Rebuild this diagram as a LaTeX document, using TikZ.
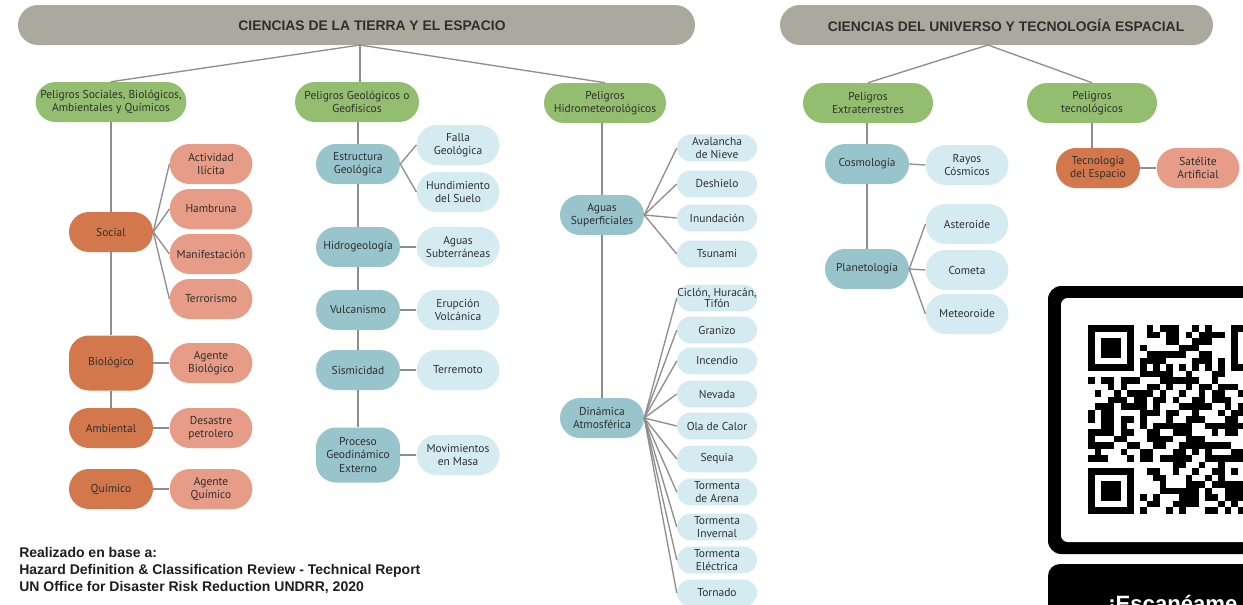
\documentclass[tikz,border=0pt]{standalone}
\usepackage{fontspec}
\setmainfont{PT Sans}
\newfontfamily\arialf{Liberation Sans}
\definecolor{hdrgray}{HTML}{A9AA9D}
\definecolor{green1}{HTML}{93BE70}
\definecolor{dorange}{HTML}{D3774C}
\definecolor{lorange}{HTML}{E69C86}
\definecolor{teal1}{HTML}{98C4CC}
\definecolor{lblue}{HTML}{D3EBF1}
\definecolor{linegray}{HTML}{8E8E8E}
\definecolor{txt}{HTML}{303030}
\definecolor{hdrtxt}{HTML}{2E2E2E}
\definecolor{footc}{HTML}{1E1E1E}
\newcommand\nodefont{\fontsize{8.6}{9.8}\selectfont}
\tikzset{
  base/.style={rectangle, rounded corners=15pt, inner sep=0pt, align=center, text=txt, font=\nodefont},
  hdrbox/.style={rectangle, rounded corners=15pt, fill=hdrgray, minimum height=30pt, inner sep=0pt},
  hdrtext/.style={font=\arialf\bfseries\fontsize{10.4}{12}\selectfont, text=hdrtxt, inner sep=0pt},
  lvA/.style={base, fill=green1, minimum height=30pt},
  lvB/.style={base, fill=teal1, minimum width=63pt, minimum height=30pt},
  lvC/.style={base, fill=lblue, minimum width=62pt, minimum height=30pt},
  lvCs/.style={base, fill=lblue, minimum width=60pt, minimum height=20pt, rounded corners=10pt},
  orD/.style={base, fill=dorange, minimum width=63pt, minimum height=30pt},
  orL/.style={base, fill=lorange, minimum width=62pt, minimum height=30pt},
  conn/.style={draw=linegray, line width=1pt},
}
\begin{document}
\begin{tikzpicture}[x=0.75pt, y=-0.75pt]
\useasboundingbox (0,0) rectangle (1243,604);
\clip (0,0) rectangle (1243,604);
\fill[white] (0,0) rectangle (1243,604);

% headers
\node[hdrbox, minimum width=507.75pt] (h1) at (356.5,25) {};
\node[hdrtext] (h1t) at (372,25.5) {CIENCIAS DE LA TIERRA Y EL ESPACIO};
\node[hdrbox, minimum width=324.75pt] (h2) at (996.5,25) {};
\node[hdrtext] (h2t) at (1006,25.5) {CIENCIAS DEL UNIVERSO Y TECNOLOGÍA ESPACIAL};
\coordinate (h1b) at (360,45);
\coordinate (h2b) at (988,45);

% level 1
\node[lvA, minimum width=113pt] (g1) at (111,102) {Peligros Sociales, Biológicos,\\Ambientales y Químicos};
\node[lvA, minimum width=93pt] (g2) at (357,102) {Peligros Geológicos o\\Geofísicos};
\node[lvA, minimum width=91.5pt] (g3) at (605,103) {Peligros\\Hidrometeorológicos};
\node[lvA, minimum width=97.5pt] (g4) at (868,103) {Peligros\\Extraterrestres};
\node[lvA, minimum width=97.5pt] (g5) at (1092,103) {Peligros\\tecnológicos};

% G1 tree
\node[orD] (social) at (111,232) {Social};
\node[orL] (act) at (211,164) {Actividad\\Ilícita};
\node[orL] (ham) at (211,209) {Hambruna};
\node[orL] (man) at (211,254) {Manifestación};
\node[orL] (terr) at (211,299) {Terrorismo};
\node[orD, minimum height=41.25pt] (bio) at (111,363) {Biológico};
\node[orL] (abio) at (211,363) {Agente\\Biológico};
\node[orD] (amb) at (111,428) {Ambiental};
\node[orL] (desa) at (211,428) {Desastre\\petrolero};
\node[orD] (qui) at (111,489) {Químico};
\node[orL] (aqui) at (211,489) {Agente\\Químico};

% G2 tree
\node[lvB] (est) at (358,164) {Estructura\\Geológica};
\node[lvC] (fal) at (458,145) {Falla\\Geológica};
\node[lvC] (hun) at (458,192) {Hundimiento\\del Suelo};
\node[lvB] (hid) at (358,247) {Hidrogeología};
\node[lvC] (asub) at (458,247) {Aguas\\Subterráneas};
\node[lvB] (vul) at (358,310) {Vulcanismo};
\node[lvC] (eru) at (458,310) {Erupción\\Volcánica};
\node[lvB] (sis) at (358,370) {Sismicidad};
\node[lvC] (terre) at (458,370) {Terremoto};
\node[lvB, minimum height=41.25pt] (pro) at (358,455) {Proceso\\Geodinámico\\Externo};
\node[lvC] (mov) at (458,455) {Movimientos\\en Masa};

% G3 tree
\node[lvB] (agu) at (602,215) {Aguas\\Superficiales};
\node[lvCs] (ava) at (717,148) {Avalancha\\de Nieve};
\node[lvCs] (desh) at (717,184) {Deshielo};
\node[lvCs] (inu) at (717,218) {Inundación};
\node[lvCs] (tsu) at (717,254) {Tsunami};
\node[lvB] (din) at (602,418) {Dinámica\\Atmosférica};
\node[lvCs, font=\fontsize{8.6}{7.4}\selectfont] (cic) at (717,298) {Ciclón, Huracán,\\Tifón};
\node[lvCs] (gra) at (717,330) {Granizo};
\node[lvCs] (inc) at (717,361) {Incendio};
\node[lvCs] (nev) at (717,394) {Nevada};
\node[lvCs] (ola) at (717,426) {Ola de Calor};
\node[lvCs] (seq) at (717,459) {Sequia};
\node[lvCs] (tar) at (717,492) {Tormenta\\de Arena};
\node[lvCs] (tin) at (717,527) {Tormenta\\Invernal};
\node[lvCs] (tel) at (717,560) {Tormenta\\Eléctrica};
\node[lvCs] (torn) at (717,593) {Tornado};

% G4 tree
\node[lvB] (cos) at (867,164) {Cosmología};
\node[lvC] (ray) at (967,165) {Rayos\\Cósmicos};
\node[lvB] (pla) at (867,269) {Planetología};
\node[lvC] (ast) at (967,224) {Asteroide};
\node[lvC] (com) at (967,270) {Cometa};
\node[lvC] (met) at (967,314) {Meteoroide};

% G5 tree
\node[orD] (tec) at (1098,168) {Tecnología\\del Espacio};
\node[orL] (sat) at (1198,168) {Satélite\\Artificial};

% connectors
\draw[conn] (h1b) -- (g1.north);
\draw[conn] (h1b) -- (h1b |- g2.north);
\draw[conn] (h1b) -- (g3.north);
\draw[conn] (h2b) -- (g4.north);
\draw[conn] (h2b) -- (g5.north);

\draw[conn] (g1.south) -- (g1.south |- social.north);
\draw[conn] (social.south) -- (bio.north);
\draw[conn] (bio.south) -- (amb.north);
\foreach \c in {act,ham,man,terr}{\draw[conn] (social.east) -- (\c.west);}
\draw[conn] (bio.east) -- (abio.west);
\draw[conn] (amb.east) -- (desa.west);
\draw[conn] (qui.east) -- (aqui.west);

\draw[conn] (est.north) -- (est.north |- g2.south);
\draw[conn] (est.south) -- (hid.north);
\draw[conn] (hid.south) -- (vul.north);
\draw[conn] (vul.south) -- (sis.north);
\draw[conn] (sis.south) -- (pro.north);
\draw[conn] (est.east) -- (fal.west);
\draw[conn] (est.east) -- (hun.west);
\draw[conn] (hid.east) -- (asub.west);
\draw[conn] (vul.east) -- (eru.west);
\draw[conn] (sis.east) -- (terre.west);
\draw[conn] (pro.east) -- (mov.west);

\draw[conn] (agu.north) -- (agu.north |- g3.south);
\draw[conn] (agu.south) -- (din.north);
\foreach \c in {ava,desh,inu,tsu}{\draw[conn] (agu.east) -- (\c.west);}
\foreach \c in {cic,gra,inc,nev,ola,seq,tar,tin,tel,torn}{\draw[conn] (din.east) -- (\c.west);}

\draw[conn] (cos.north) -- (cos.north |- g4.south);
\draw[conn] (cos.south) -- (pla.north);
\draw[conn] (cos.east) -- (ray.west);
\foreach \c in {ast,com,met}{\draw[conn] (pla.east) -- (\c.west);}

\draw[conn] (g5.south) -- (g5.south |- tec.north);
\draw[conn] (tec.east) -- (sat.west);

% footer
\node[anchor=west, align=left, font=\arialf\bfseries\fontsize{10.5}{12.75}\selectfont, text=footc, inner sep=0pt] (foot) at (19,571) {Realizado en base a:\\Hazard Definition \& Classification Review - Technical Report\\UN Office for Disaster Risk Reduction UNDRR, 2020};

% QR block
\fill[black, rounded corners=10pt] (1048,286) rectangle (1320,554);
\fill[white, rounded corners=5pt] (1061,298) rectangle (1320,542);
\foreach \qa/\qb in {0/0,22/0,0/22}{
  \fill[black] (1088+6.5*\qa,325+6.5*\qb) rectangle ++(45.5,45.5);
  \fill[white] (1094.5+6.5*\qa,331.5+6.5*\qb) rectangle ++(32.5,32.5);
  \fill[black] (1101+6.5*\qa,338+6.5*\qb) rectangle ++(19.5,19.5);
}
\fill[black] (1218,455) rectangle ++(32.5,32.5);
\fill[white] (1224.5,461.5) rectangle ++(19.5,19.5);
\fill[black] (1231,468) rectangle ++(6.5,6.5);
\foreach \k in {8,10,...,20}{
  \fill[black] (1088+6.5*\k,364) rectangle ++(6.6,6.6);
  \fill[black] (1127,325+6.5*\k) rectangle ++(6.6,6.6);
}
\pgfmathsetseed{4711}
\foreach \i in {0,...,28}{
  \foreach \j in {0,...,28}{
    \pgfmathtruncatemacro\res{((\i<8)&&(\j<8))||((\i>20)&&(\j<8))||((\i<8)&&(\j>20))||(\i==6)||(\j==6)||((\i>19)&&(\i<25)&&(\j>19)&&(\j<25))}
    \pgfmathsetmacro\rr{rnd}
    \pgfmathtruncatemacro\on{\rr<0.56}
    \ifnum\res=0 \ifnum\on=1 \fill[black] (1088+6.5*\i,325+6.5*\j) rectangle ++(6.6,6.6); \fi\fi
  }
}
\fill[black, rounded corners=9pt] (1048,564) rectangle (1320,660);
\node[anchor=base west, inner sep=0pt, text=white, font=\arialf\bfseries\fontsize{16.6}{18}\selectfont] (scan) at (1108,611) {¡Escanéame};
\end{tikzpicture}
\end{document}
